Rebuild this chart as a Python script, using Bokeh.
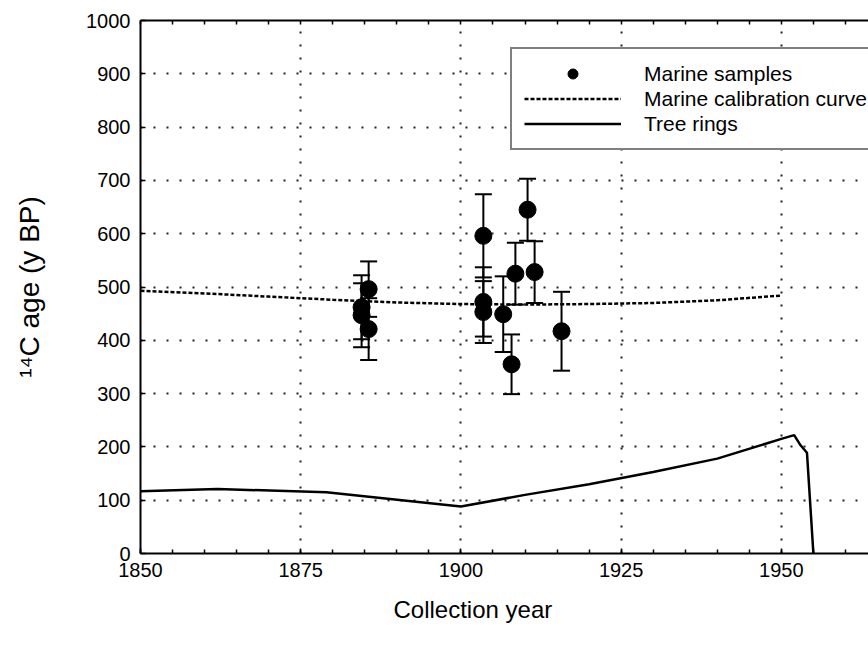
from bokeh.plotting import figure
from bokeh.models import (Range1d, LinearAxis, SingleIntervalTicker, FixedTicker,
                          ColumnDataSource, Whisker, TeeHead, Legend, LegendItem, Title)
from bokeh.embed import file_html
from bokeh.resources import INLINE

# ---- data ----
sample_year = [1884.5, 1884.5, 1885.6, 1885.6, 1903.5, 1903.5, 1903.5,
               1906.6, 1907.9, 1908.5, 1910.4, 1911.5, 1915.7]
sample_age = [462, 447, 496, 421, 596, 472, 453, 449, 355, 525, 645, 528, 417]
sample_err = [60, 60, 52, 58, 78, 65, 58, 71, 56, 58, 58, 58, 74]

cal_year = [1850, 1860, 1870, 1880, 1890, 1900, 1910, 1920, 1930, 1940, 1950]
cal_age = [493, 488, 482, 476, 471, 468, 467, 468, 470, 475, 484]

tree_year = [1850, 1862, 1879, 1900, 1910, 1920, 1930, 1940, 1950, 1952, 1953, 1954, 1955]
tree_age = [117, 121, 115, 88, 110, 130, 153, 178, 215, 222, 203, 189, 0]

x_ticks_interval = 25
x_minor_ticks = list(range(1850, 1965, 5))
y_ticks_interval = 100

FONT = "Liberation Sans"

p = figure(width=868, height=653, output_backend="svg", toolbar_location=None,
           x_range=Range1d(1850, 1963.6), y_range=Range1d(0, 1000),
           min_border_left=140, min_border_right=0, min_border_top=20,
           min_border_bottom=100)
p.outline_line_color = None
p.background_fill_color = "white"
p.border_fill_color = "white"

p.xaxis.ticker = SingleIntervalTicker(interval=x_ticks_interval, num_minor_ticks=5)
p.yaxis.ticker = SingleIntervalTicker(interval=y_ticks_interval, num_minor_ticks=0)

for ax in (p.xaxis[0], p.yaxis[0]):
    ax.axis_line_width = 2
    ax.axis_line_color = "black"
    ax.major_tick_in = 5
    ax.major_tick_out = 0
    ax.minor_tick_in = 4
    ax.minor_tick_out = 0
    ax.major_tick_line_width = 1.5
    ax.minor_tick_line_width = 1.5
    ax.major_label_text_font = FONT
    ax.major_label_text_font_size = "20px"
    ax.major_label_text_color = "black"
    ax.axis_label_text_font = FONT
    ax.axis_label_text_font_style = "normal"
    ax.axis_label_text_color = "black"

p.xaxis.major_label_standoff = 9

p.yaxis.major_label_standoff = 10
p.yaxis.axis_label = "¹⁴C age (y BP)"
p.yaxis.axis_label_text_font_size = "28px"
p.yaxis.axis_label_standoff = 38

# x-axis title, placed as in the reference (left of the frame centre)
xtitle = Title(text="Collection year", align="left", offset=253,
               text_font=FONT, text_font_size="24px", text_font_style="normal",
               text_color="black", standoff=29)
p.add_layout(xtitle, "below")

# top frame line with small inward ticks, no labels
top = LinearAxis(ticker=FixedTicker(ticks=[], minor_ticks=x_minor_ticks),
                 axis_line_width=2, axis_line_color="black",
                 minor_tick_in=4, minor_tick_out=0, minor_tick_line_width=1.5)
p.add_layout(top, "above")

for g in (p.xgrid[0], p.ygrid[0]):
    g.grid_line_color = "#222222"
    g.grid_line_dash = "2 11"
    g.grid_line_width = 2

# tree rings
tree_r = p.line(tree_year, tree_age, line_color="black", line_width=2.5)
# marine calibration curve
cal_r = p.line(cal_year, cal_age, line_color="black", line_width=2.5, line_dash="4 2")

# samples with error bars
src = ColumnDataSource(dict(
    year=sample_year, age=sample_age,
    lower=[a - e for a, e in zip(sample_age, sample_err)],
    upper=[a + e for a, e in zip(sample_age, sample_err)],
))
wh = Whisker(source=src, base="year", lower="lower", upper="upper",
             line_color="black", line_width=2,
             upper_head=TeeHead(size=17, line_width=2, line_color="black"),
             lower_head=TeeHead(size=17, line_width=2, line_color="black"))
p.add_layout(wh)
sc = p.scatter("year", "age", source=src, size=17, fill_color="black", line_color="black")

legend = Legend(items=[
    LegendItem(label="Marine samples", renderers=[sc]),
    LegendItem(label="Marine calibration curve", renderers=[cal_r]),
    LegendItem(label="Tree rings", renderers=[tree_r]),
], location=(370, 403))
legend.border_line_color = "black"
legend.border_line_width = 2
legend.background_fill_color = "white"
legend.background_fill_alpha = 1
legend.padding = 12
legend.margin = 0
legend.glyph_width = 97
legend.glyph_height = 25
legend.spacing = 0
legend.label_standoff = 23
legend.label_height = 20
legend.label_text_font = FONT
legend.label_text_font_size = "21px"
legend.label_text_color = "black"
p.add_layout(legend, "center")

open("out.html", "w").write(file_html(p, INLINE))
